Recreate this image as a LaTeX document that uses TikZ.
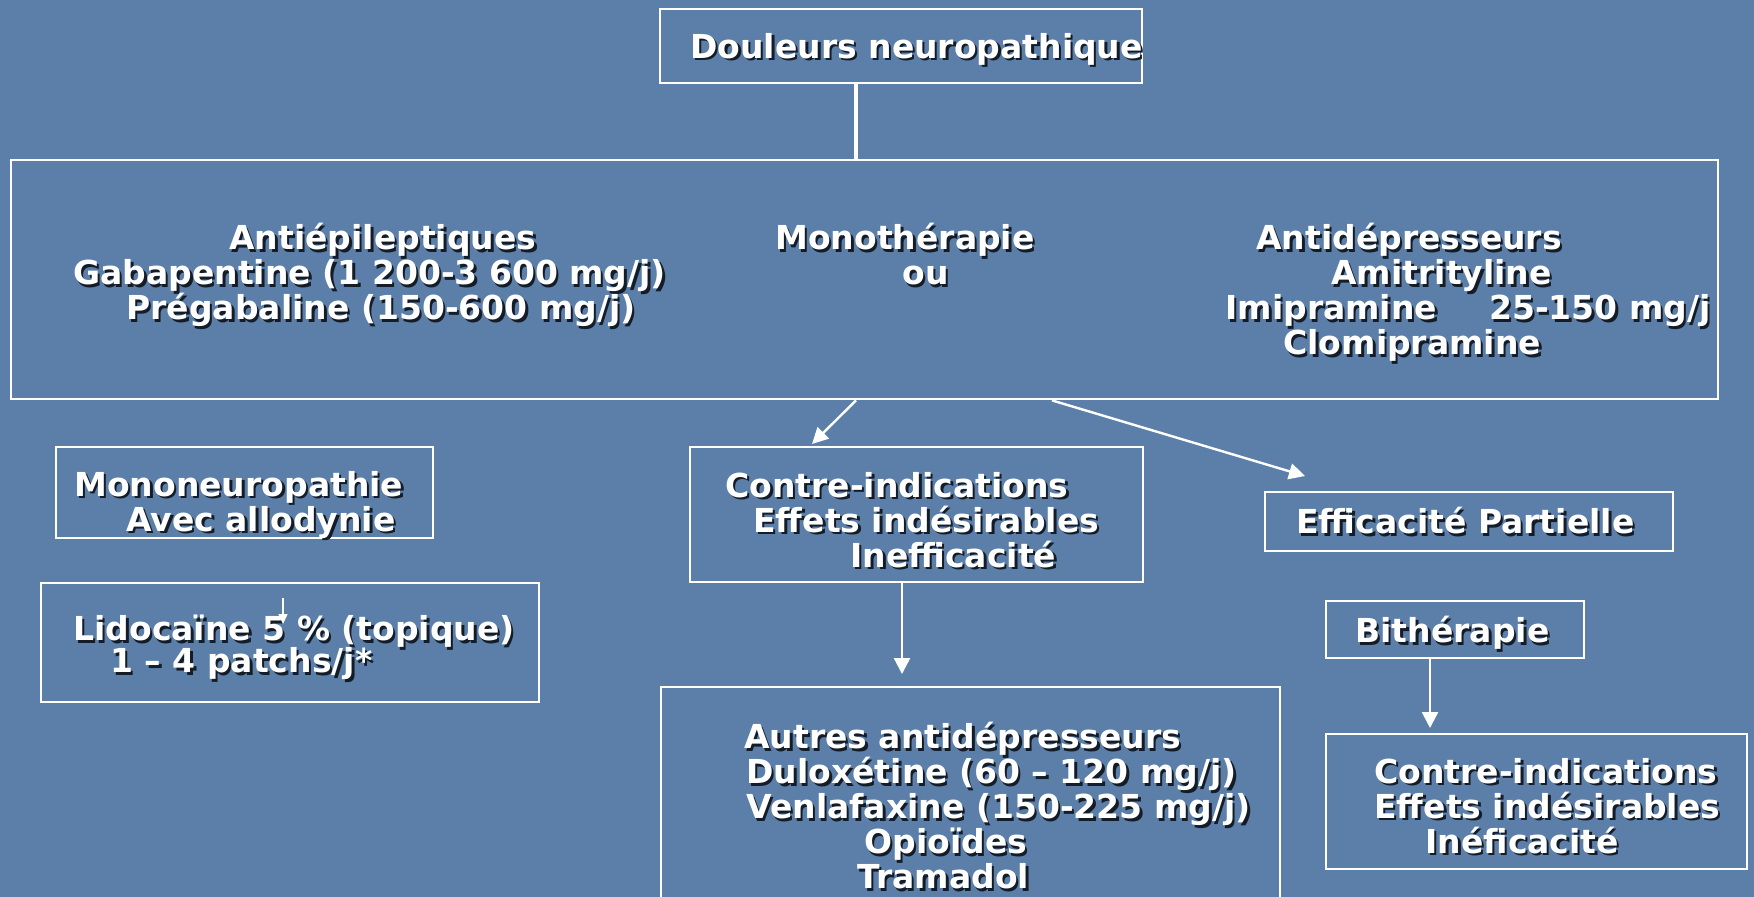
\documentclass[tikz,border=0pt]{standalone}
\usepackage{fontspec}
\setmainfont{DejaVu Sans}
\usetikzlibrary{arrows.meta,fit}
\definecolor{slide}{HTML}{5B7FA9}
\definecolor{shade}{HTML}{141C28}
\newcommand\tightlines{\lineskiplimit=-20pt\relax\lineskip=0pt\relax}
\tikzset{
  box/.style={draw=white,line width=1.4pt,inner sep=0pt},
  txt/.style={anchor=north west,inner sep=0pt,align=left,text=white,font=\bfseries\fontsize{16.5}{17.5}\selectfont},
  tight/.style={font=\bfseries\fontsize{16.5}{16}\selectfont\tightlines},
  flow/.style={draw=white,line width=1.2pt,-{Triangle[length=8pt,width=8pt]}},
}
% text with its dark drop shadow
\newcommand\shtxt[4][]{%
  \node[txt,#1,text=shade,xshift=1.2pt,yshift=-1.2pt] (#2-sh) at #3 {#4};
  \node[txt,#1] (#2) at #3 {#4};}

\begin{document}
\begin{tikzpicture}[x=0.5pt,y=-0.5pt]
\useasboundingbox (0,0) rectangle (1754,897);
\clip (0,0) rectangle (1754,897);
\fill[slide] (0,0) rectangle (1754,897);
% boxes
\node[box,fit={(660,9) (1142,83)}] (douleur) {};
\node[box,fit={(11,160) (1718,399)}] (traitement) {};
\node[box,fit={(56,447) (433,538)}] (mono) {};
\node[box,fit={(41,583) (539,702)}] (lido) {};
\node[box,fit={(690,447) (1143,582)}] (contre) {};
\node[box,fit={(1265,492) (1673,551)}] (effic) {};
\node[box,fit={(661,687) (1280,920)}] (autres) {};
\node[box,fit={(1326,601) (1584,658)}] (bithe) {};
\node[box,fit={(1326,734) (1747,869)}] (contreb) {};
% texts
\shtxt{douleur-t}{(690,33)}{Douleurs neuropathique}
\shtxt{antiep}{(73,223)}{\hspace*{78pt}Antiépileptiques\\Gabapentine (1 200-3 600 mg/j)\\\hspace*{26.5pt}Prégabaline (150-600 mg/j)}
\shtxt{monoth}{(775,223)}{Monothérapie\\\hspace*{63.5pt}ou}
\shtxt{antidep}{(1225,223)}{\hspace*{15.5pt}Antidépresseurs\\\hspace*{53pt}Amitrityline\\Imipramine\hspace{26pt}25-150 mg/j\\\hspace*{29pt}Clomipramine}
\shtxt{mono-t}{(74,471)}{Mononeuropathie\\\hspace*{26pt}Avec allodynie}
\shtxt[tight]{lido-t}{(73,615)}{Lidocaïne 5 \% (topique)\\\hspace*{18.5pt}1 – 4 patchs/j*}
\shtxt{contre-t}{(725,472)}{Contre-indications\\\hspace*{14pt}Effets indésirables\\\hspace*{62.5pt}Inefficacité}
\shtxt{effic-t}{(1296,507)}{Efficacité Partielle}
\shtxt{bithe-t}{(1355,616)}{Bithérapie}
\shtxt{autres-t}{(744,722)}{Autres antidépresseurs\\\hspace*{1pt}Duloxétine (60 – 120 mg/j)\\\hspace*{1pt}Venlafaxine (150-225 mg/j)\\\hspace*{60pt}Opioïdes\\\hspace*{56.5pt}Tramadol}
\shtxt{contreb-t}{(1374,758)}{Contre-indications\\Effets indésirables\\\hspace*{25.5pt}Inéficacité}
% connectors
\coordinate (split) at (856,399);
\coordinate (tipA) at (812,444);
\coordinate (fork) at (1052,399);
\coordinate (tipB) at (1305,476);
\coordinate (downA) at (902,674);
\coordinate (downB) at (1430,728);
\coordinate (lidoA) at (283,598);
\coordinate (lidoB) at (283,624);
\draw[white,line width=2.2pt] (douleur.south -| split) -- (traitement.north -| split);
\draw[flow] (traitement.south -| split) -- (tipA);
\draw[flow] (traitement.south -| fork) -- (tipB);
\draw[flow] (contre.south -| downA) -- (downA);
\draw[flow] (bithe.south -| downB) -- (downB);
\draw[white,line width=0.7pt,-{Triangle[length=5pt,width=4.5pt]}] (lidoA) -- (lidoB);
\end{tikzpicture}
\end{document}
